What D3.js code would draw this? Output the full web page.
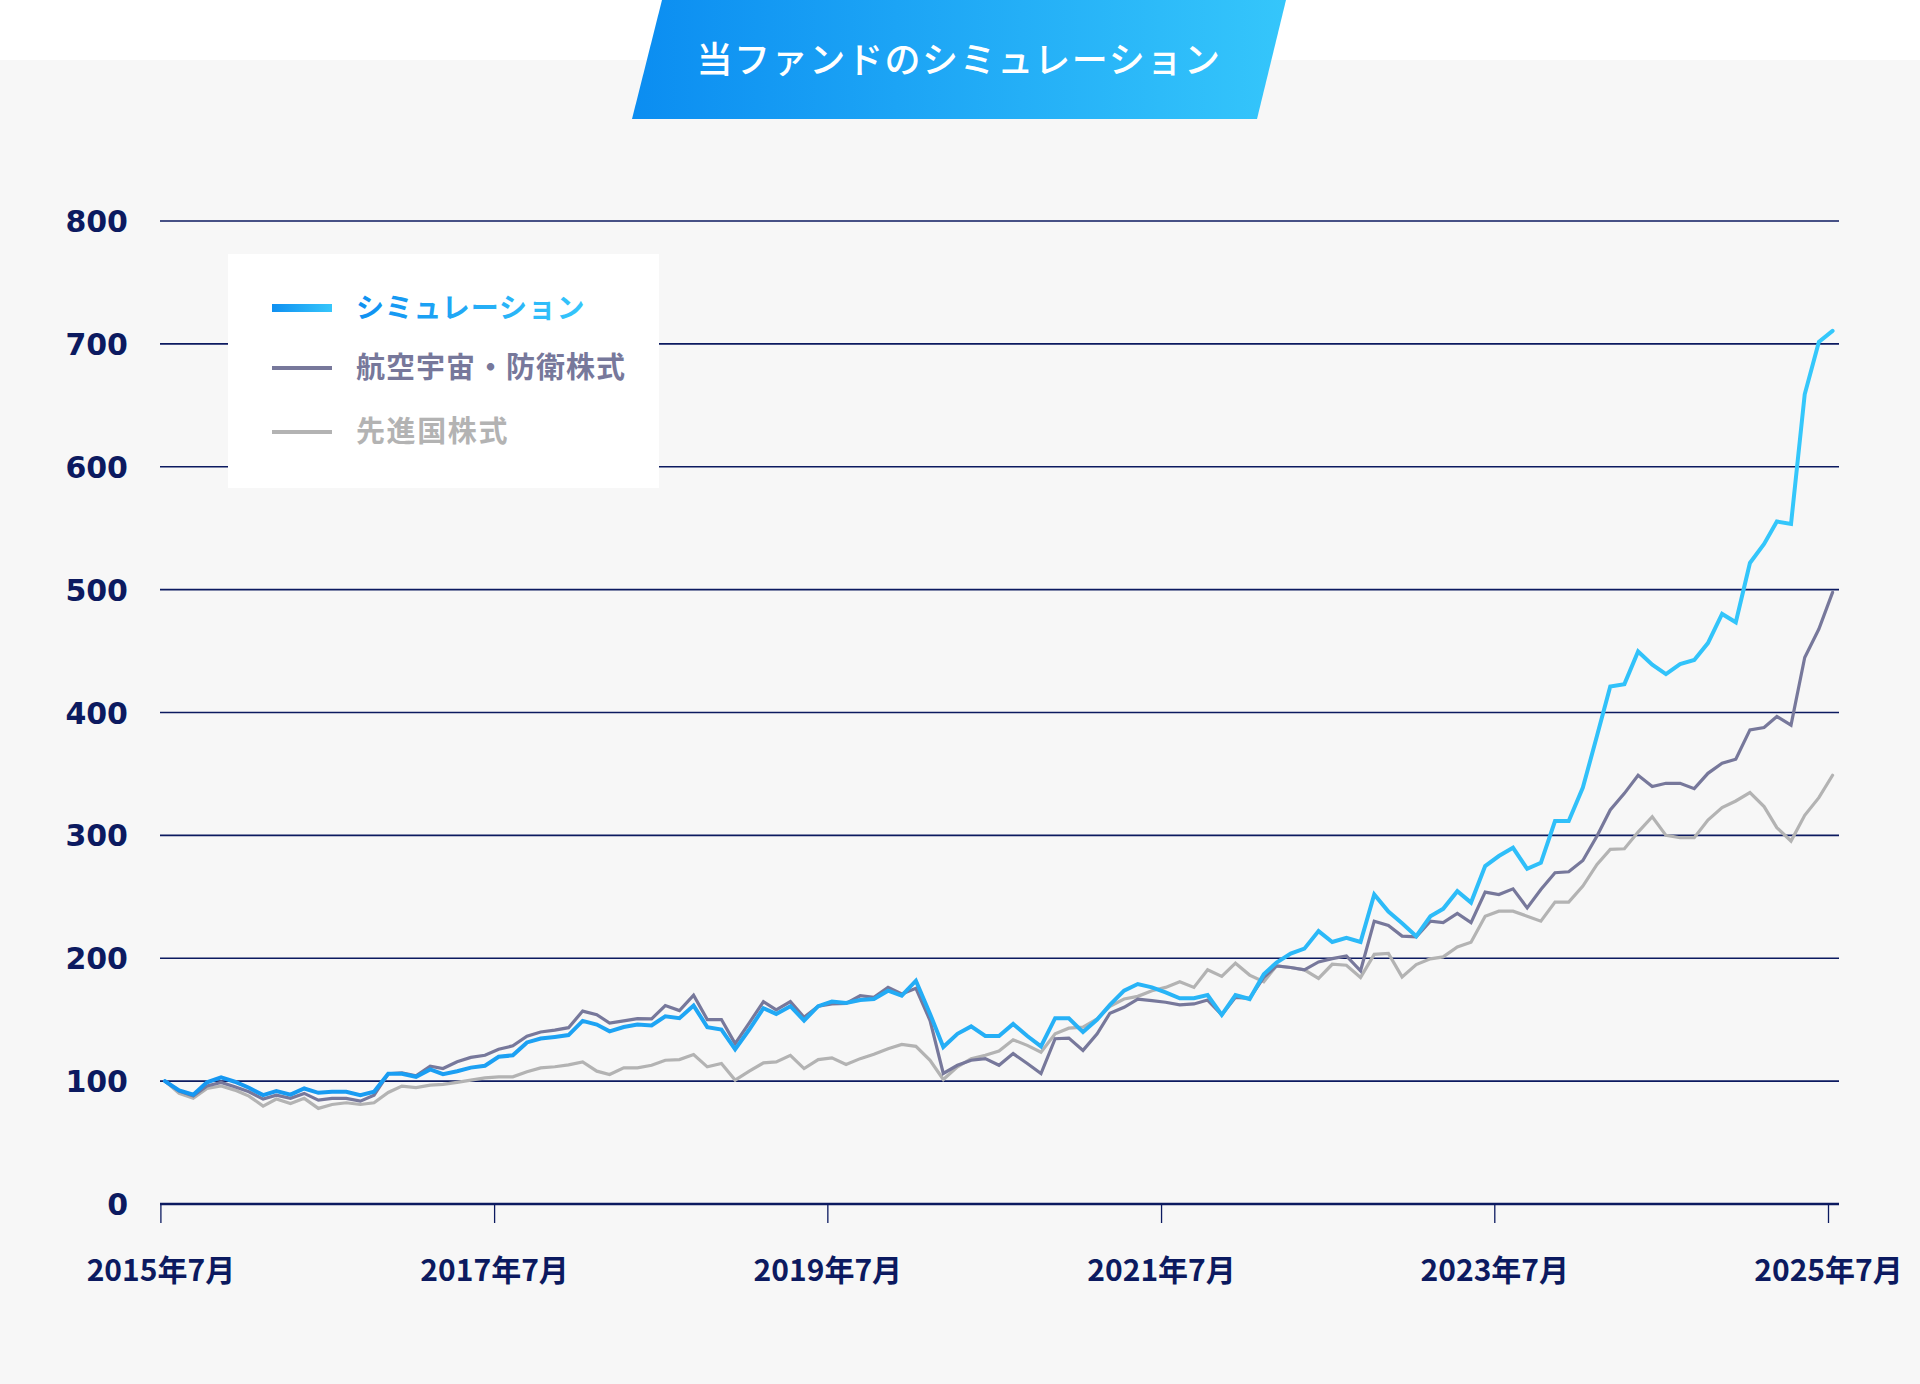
<!DOCTYPE html>
<html>
<head>
<meta charset="utf-8">
<script src="https://cdn.jsdelivr.net/npm/d3@7"></script>
<style>
  body { margin: 0; background: #f7f7f7; }
  svg { display: block; }
</style>
</head>
<body>
<svg id="chart"></svg>
<script>
// monthly index values, 2015/7 = 100
const simulation = [
  100, 92.4, 89, 99, 103, 99.5, 94.6, 88.6, 91.9, 89, 94, 90.5, 91.3, 91.3, 88.6, 91.3,
  106, 106, 103.5, 109.5, 105.7, 108, 111, 112.5, 119.8, 121, 131.5, 134.7, 136, 137.5,
  149, 146, 140.5, 144, 146, 145.3, 152.8, 151.2, 161.5, 143.9, 142, 125.9, 142, 159.3,
  154.7, 161, 149.3, 161, 164.7, 163.6, 166, 166.8, 173.6, 169.5, 181.7, 154.7, 127.8,
  138.5, 144.5, 136.7, 136.7, 146.6, 136.7, 128.3, 151.2, 151.2, 139.9, 150.1, 162, 173.6,
  179, 176.3, 172.2, 167.4, 167.4, 170, 153.9, 170, 166.8, 187, 196.5, 203.8, 207.8, 222.1,
  213.2, 216.7, 213.2, 252, 238, 228.5, 218, 234.2, 240.2, 254.6, 245.3, 275, 283.2, 289.9,
  272.8, 277.7, 311.7, 311.7, 338.9, 381, 421.2, 423.1, 449.7, 438.9, 431.3, 439.4, 442.7,
  456.5, 480.2, 473.4, 521.7, 537.2, 555.4, 553.5, 659, 701.6, 710.6
];
const aerospace = [
  100, 92, 88, 96, 99, 95.4, 91.3, 85.4, 88.6, 86, 90, 84.5, 86, 86, 83.7, 88.6,
  106, 106.8, 104.3, 112.2, 110.3, 115.7, 119.3, 121, 126, 128.7, 136.6, 140, 141.5, 143.5,
  157, 154, 147.2, 149, 150.8, 150.7, 161.5, 157.4, 170, 150.1, 150.1, 130.5, 147.4, 164.7,
  158, 164.7, 152, 161, 162.8, 163.3, 169.5, 168.2, 176.3, 170.9, 175.5, 149.3, 106.2,
  112.9, 117, 118.3, 112.9, 122.4, 114.3, 106.2, 134.5, 135, 125, 138.5, 155.3, 160.1,
  166.8, 165.5, 164.2, 162, 162.8, 166, 153.9, 168.2, 167.4, 184.4, 193.8, 192.5, 190.6, 197,
  199.7, 201.9, 189.8, 230.2, 226.7, 218, 217.4, 230.2, 229, 236.4, 229, 253.8, 251.9, 256.5,
  241, 256, 269.6, 270.4, 279.6, 299.5, 320.7, 334.2, 348.9, 339.7, 342.4, 342.4, 338,
  350.5, 358.7, 362, 385.9, 387.8, 396.7, 389.7, 444.8, 467.9, 497.8
];
const developed = [
  100, 90, 86, 94, 96, 92.7, 87.8, 79.7, 85.4, 81.8, 86, 77.8, 81, 82.4, 81, 82.4,
  90.8, 96, 94.7, 96.7, 97.3, 99, 100.8, 102.7, 103.5, 103.5, 107.6, 110.8, 111.7, 113.2,
  115.6, 108.1, 105.4, 110.8, 110.8, 112.9, 117, 117.5, 121.6, 111.6, 114.3, 100.8, 108.1, 114.8,
  115.6, 121, 110.2, 117.5, 118.9, 113.5, 118.3, 121.8, 126.4, 129.9, 128.3, 117, 101.3,
  111.6, 118.3, 121, 124.5, 133.7, 129.1, 123.5, 138.5, 143.1, 143.9, 150.7, 160.9, 166.8,
  169, 173.6, 176.3, 180.9, 176.3, 190.6, 185.2, 196, 186.3, 180.9, 193.8, 192.5, 190.6, 183.6,
  195.1, 194.3, 184.4, 203.2, 204, 184.8, 194.8, 199.5, 201.1, 209.2, 213, 234.2, 238.3, 238.3,
  234.2, 230.2, 245.7, 245.7, 258.7, 276.4, 288.6, 289.1, 302.7, 315.2, 300, 298.1, 298.1,
  312.5, 322.6, 328, 334.8, 323.4, 306.3, 295.4, 316.3, 330.7, 348.9
];

// one point per month, from 2015/7 to 2025/7
const months = d3.timeMonth.range(new Date(2015, 6, 1), new Date(2025, 7, 1))
  .map(d => d3.timeDay.offset(d, 10));

const yTicks = [0, 100, 200, 300, 400, 500, 600, 700, 800];
const xTicks = [2015, 2017, 2019, 2021, 2023, 2025].map(y => new Date(y, 6, 1));

const seriesNames = ["シミュレーション", "航空宇宙・防衛株式", "先進国株式"];

const width = 1920;
const height = 1384;
const margin = { top: 221, right: 81, bottom: 180, left: 160 };

const navy = "#0c1a60";
const purple = "#77789b";
const grey = "#b3b3b3";

const svg = d3.select("#chart")
  .attr("width", width)
  .attr("height", height);

const defs = svg.append("defs");

function addGradient(id, attrs, from, to) {
  const g = defs.append("linearGradient").attr("id", id);
  Object.entries(attrs).forEach(([k, v]) => g.attr(k, v));
  g.append("stop").attr("offset", "0%").attr("stop-color", from);
  g.append("stop").attr("offset", "100%").attr("stop-color", to);
}

addGradient("bannerGrad", {}, "#0b8df1", "#35c6fb");
addGradient("keyGrad", {}, "#0f90f1", "#36c6fb");
addGradient("lineGrad", { gradientUnits: "userSpaceOnUse", x1: margin.left, x2: width - margin.right, y1: 0, y2: 0 },
  "#1596f1", "#35c8fb");

// background: white strip on top, grey panel below
svg.append("rect")
  .attr("width", width).attr("height", height)
  .attr("fill", "#f7f7f7");
svg.append("rect")
  .attr("width", width).attr("height", 60)
  .attr("fill", "#ffffff");

// title banner
svg.append("path")
  .attr("d", "M662,0 L1286,0 L1257,119 L632,119 Z")
  .attr("fill", "url(#bannerGrad)");

svg.append("text")
  .attr("x", 959)
  .attr("y", 60)
  .attr("dy", "0.36em")
  .attr("text-anchor", "middle")
  .attr("fill", "#ffffff")
  .style("font-family", "'Noto Sans CJK JP', sans-serif")
  .style("font-size", "36px")
  .style("font-weight", 500)
  .style("letter-spacing", "1.6px")
  .text("当ファンドのシミュレーション");

const xScale = d3.scaleTime()
  .domain([xTicks[0], xTicks[xTicks.length - 1]])
  .range([160.4, 1828]);

const yScale = d3.scaleLinear()
  .domain([0, 800])
  .range([1204, margin.top]);

// gridlines
svg.append("g")
  .selectAll("line")
  .data(yTicks)
  .enter()
  .append("line")
  .attr("x1", margin.left)
  .attr("x2", width - margin.right)
  .attr("y1", d => yScale(d))
  .attr("y2", d => yScale(d))
  .attr("stroke", navy)
  .attr("stroke-width", d => d === 0 ? 2.6 : 1.6);

// y labels
svg.append("g")
  .selectAll("text")
  .data(yTicks)
  .enter()
  .append("text")
  .attr("x", 128)
  .attr("y", d => yScale(d) + 11)
  .attr("text-anchor", "end")
  .attr("fill", navy)
  .style("font-family", "'DejaVu Sans', sans-serif")
  .style("font-size", "30px")
  .style("font-weight", 700)
  .text(d => d);

// x axis ticks + labels
const xAxis = d3.axisBottom(xScale)
  .tickValues(xTicks)
  .tickSize(19)
  .tickPadding(37)
  .tickFormat(d => `${d.getFullYear()}年${d.getMonth() + 1}月`);

const xg = svg.append("g")
  .attr("transform", `translate(0, ${yScale(0)})`)
  .call(xAxis);

xg.select(".domain").remove();
xg.selectAll(".tick line")
  .attr("stroke", navy)
  .attr("stroke-width", 1.3);
xg.selectAll(".tick text")
  .attr("fill", navy)
  .attr("dy", "0.71em")
  .style("font-family", "'Noto Sans CJK JP', sans-serif")
  .style("font-size", "30px")
  .style("font-weight", 700);

// lines
const lineGen = values => d3.line()
  .x((d, i) => xScale(months[i]))
  .y(d => yScale(d))(values);

const lines = [
  { values: developed, color: grey, w: 3.2 },
  { values: aerospace, color: purple, w: 3.2 },
  { values: simulation, color: "url(#lineGrad)", w: 4 }
];

svg.append("g")
  .selectAll("path")
  .data(lines)
  .enter()
  .append("path")
  .attr("d", d => lineGen(d.values))
  .attr("fill", "none")
  .attr("stroke", d => d.color)
  .attr("stroke-width", d => d.w)
  .attr("stroke-linejoin", "miter")
  .attr("stroke-linecap", "round");

// legend
const legend = svg.append("g");
legend.append("rect")
  .attr("x", 228).attr("y", 254)
  .attr("width", 431).attr("height", 234)
  .attr("fill", "#ffffff");

const keys = [
  { name: seriesNames[0], color: "url(#keyGrad)", w: 8, y: 308, size: 28, ls: 0.8 },
  { name: seriesNames[1], color: purple, w: 4, y: 368, size: 29, ls: 1 },
  { name: seriesNames[2], color: grey, w: 4, y: 432, size: 29, ls: 1.6 }
];

const item = legend.selectAll("g.key")
  .data(keys)
  .enter()
  .append("g")
  .attr("class", "key");

item.append("rect")
  .attr("x", 272)
  .attr("y", d => d.y - d.w / 2)
  .attr("width", 60)
  .attr("height", d => d.w)
  .attr("fill", d => d.color);

item.append("text")
  .attr("x", 356)
  .attr("y", d => d.y)
  .attr("dy", "0.36em")
  .attr("fill", d => d.color)
  .style("font-family", "'Noto Sans CJK JP', sans-serif")
  .style("font-size", d => d.size + "px")
  .style("font-weight", 700)
  .style("letter-spacing", d => d.ls + "px")
  .text(d => d.name);
</script>
</body>
</html>
